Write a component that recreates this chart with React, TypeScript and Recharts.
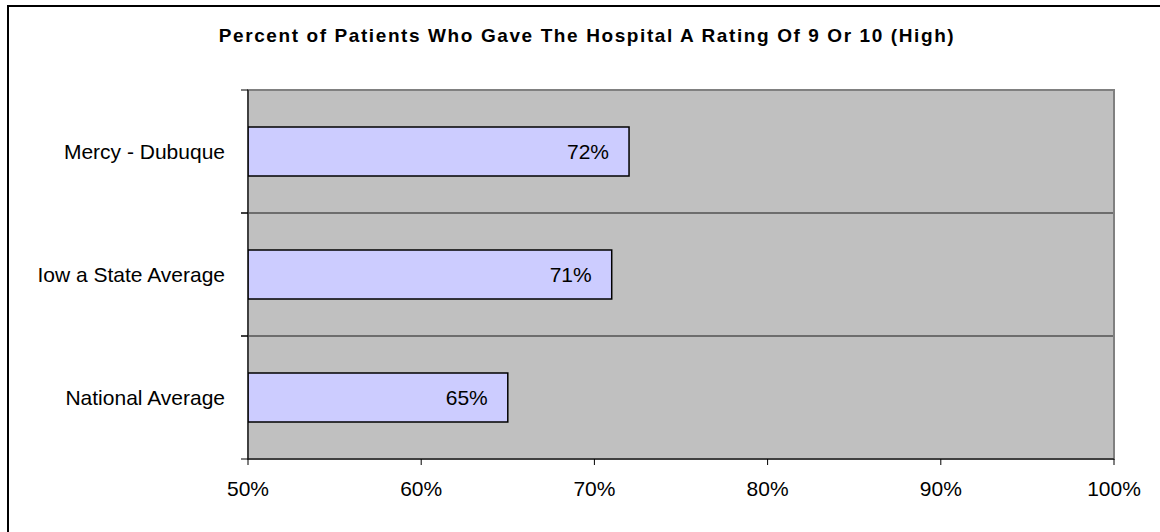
import React from 'react';
import {
  BarChart,
  Bar,
  XAxis,
  YAxis,
  CartesianGrid,
  LabelList,
  ReferenceArea,
} from 'recharts';

const categories = ['Mercy - Dubuque', 'Iow a State Average', 'National Average'];
const ratings = [72, 71, 65];
const xTicks = [50, 60, 70, 80, 90, 100];

const data = categories.map((name, i) => ({ name, value: ratings[i] }));

const FONT = '"Liberation Sans", Arial, sans-serif';

// Excel style: tick marks sit on the band edges, label in the middle
function CategoryTick(props: any) {
  const { x, y, payload } = props;
  const half = payload && payload.offset ? payload.offset : 0;
  return (
    <g>
      <line x1={x} x2={x - 7} y1={y - half} y2={y - half} stroke="#000" />
      <line x1={x} x2={x - 7} y1={y + half} y2={y + half} stroke="#000" />
      <text
        x={x - 23}
        y={y}
        textAnchor="end"
        dominantBaseline="central"
        fontSize={21}
        fill="#000"
        fontFamily={FONT}
      >
        {payload.value}
      </text>
    </g>
  );
}

// horizontal grid lines between the category bands
function bandEdges(props: any) {
  const { yAxis, offset } = props;
  const sc = yAxis && yAxis.scale;
  if (typeof sc === 'function') {
    return categories.slice(1).map((c) => sc(c));
  }
  if (sc && typeof sc.map === 'function') {
    return categories.slice(1).map((c) => sc.map(c));
  }
  const n = categories.length;
  return categories.slice(1).map((_, i) => offset.top + (offset.height * (i + 1)) / n);
}

export default function App() {
  return (
    <div
      style={{
        position: 'relative',
        width: 1160,
        height: 532,
        overflow: 'hidden',
        background: '#fff',
        fontFamily: FONT,
      }}
    >
      <style>{'body{margin:0}'}</style>
      <div
        style={{
          position: 'absolute',
          left: 7,
          top: 5,
          width: 1300,
          height: 700,
          border: '2px solid #000',
        }}
      />
      <div
        style={{
          position: 'absolute',
          left: 0,
          top: 25,
          width: 1174,
          textAlign: 'center',
          fontSize: 19,
          fontWeight: 'bold',
          letterSpacing: 1.6,
          lineHeight: 1.15,
          color: '#000',
        }}
      >
        Percent of Patients Who Gave The Hospital A Rating Of 9 Or 10 (High)
      </div>
      <div style={{ position: 'absolute', left: 0, top: 0 }}>
        <BarChart
          width={1160}
          height={532}
          data={data}
          layout="vertical"
          margin={{ top: 90, right: 46, bottom: 33, left: 0 }}
        >
          <CartesianGrid
            yAxisId="cat"
            vertical={false}
            fill="#C0C0C0"
            fillOpacity={1}
            stroke="#1a1a1a"
            strokeWidth={1}
            horizontalCoordinatesGenerator={bandEdges}
          />
          <ReferenceArea
            yAxisId="cat"
            x1={50}
            x2={100}
            fill="none"
            stroke="#808080"
            strokeWidth={2}
            ifOverflow="visible"
          />
          <XAxis
            type="number"
            domain={[50, 100]}
            ticks={xTicks}
            allowDataOverflow
            tickFormatter={(v: number) => `${v}%`}
            height={40}
            tickSize={6}
            tickMargin={16}
            stroke="#000"
            tick={{ fill: '#000', fontSize: 21 }}
          />
          <YAxis
            yAxisId="cat"
            type="category"
            dataKey="name"
            width={248}
            tickLine={false}
            tickSize={0}
            tickMargin={0}
            stroke="#000"
            tick={<CategoryTick />}
          />
          <Bar
            yAxisId="cat"
            dataKey="value"
            fill="#CCCCFF"
            stroke="#000"
            strokeWidth={1.5}
            barSize={49}
            isAnimationActive={false}
          >
            <LabelList
              dataKey="value"
              position="insideRight"
              offset={20}
              formatter={(v: any) => `${v}%`}
              fill="#000"
              fontSize={21}
            />
          </Bar>
        </BarChart>
      </div>
    </div>
  );
}
